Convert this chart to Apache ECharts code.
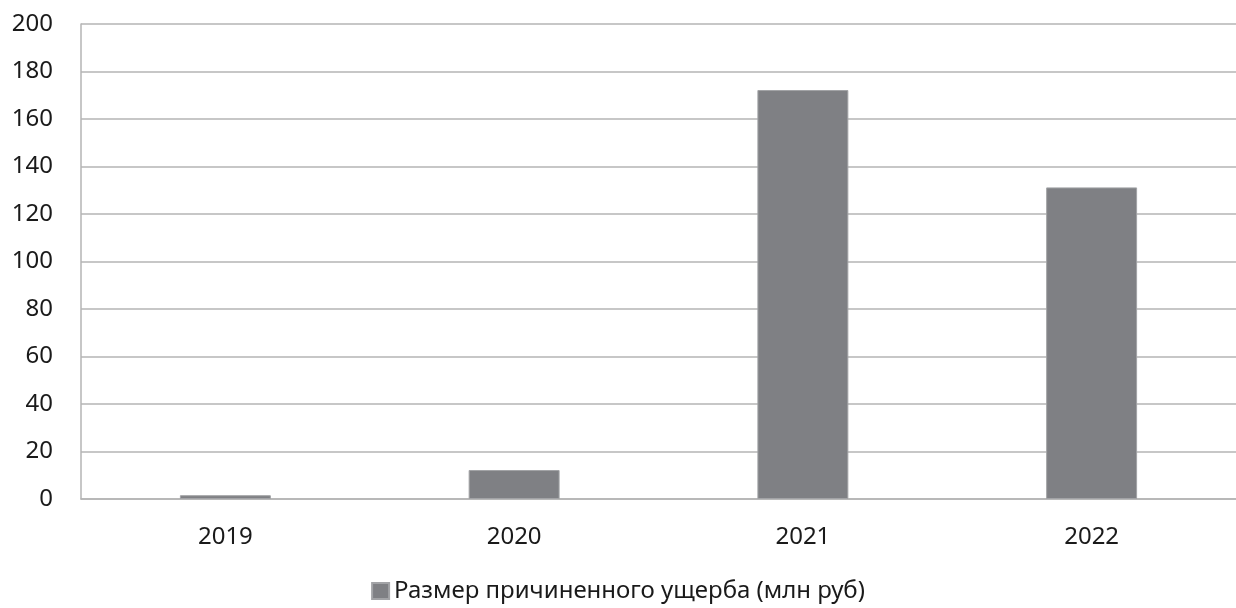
<!DOCTYPE html>
<html>
<head>
<meta charset="utf-8">
<script src="https://cdn.jsdelivr.net/npm/echarts@6/dist/echarts.min.js"></script>
<style>
html,body{margin:0;padding:0;background:#fff;}
#chart{width:1236px;height:608px;}
</style>
</head>
<body>
<div id="chart"></div>
<script>
const categories = ['2019', '2020', '2021', '2022'];
const damageValues = [1.6, 12.2, 172.2, 131.2];
const seriesName = 'Размер причиненного ущерба (млн руб)';
const yMin = 0, yMax = 200, yInterval = 20;

const chart = echarts.init(document.getElementById('chart'));
const FONT = '"Noto Sans", "Open Sans", sans-serif';
chart.setOption({
  animation: false,
  backgroundColor: '#ffffff',
  textStyle: { fontFamily: FONT },
  grid: { left: 81, right: 0, top: 24, bottom: 109, containLabel: false },
  legend: {
    bottom: 0,
    left: 'center',
    itemWidth: 17,
    itemHeight: 16,
    icon: 'rect',
    itemGap: 10,
    textStyle: { fontSize: 24, color: '#1a1a1a', fontFamily: FONT },
    data: [seriesName]
  },
  xAxis: {
    type: 'category',
    data: categories,
    axisLine: { show: true, lineStyle: { color: '#b4b4b4', width: 1.5 } },
    axisTick: { show: false },
    axisLabel: { fontSize: 24, color: '#1a1a1a', margin: 26, fontFamily: FONT }
  },
  yAxis: {
    type: 'value',
    min: yMin,
    max: yMax,
    interval: yInterval,
    axisLine: { show: true, lineStyle: { color: '#b4b4b4', width: 1.5 } },
    axisTick: { show: false },
    axisLabel: { fontSize: 24, color: '#1a1a1a', margin: 28, fontFamily: FONT },
    splitLine: { show: true, lineStyle: { color: '#b4b4b4', width: 1.5 } }
  },
  series: [{
    name: seriesName,
    type: 'bar',
    data: damageValues,
    barCategoryGap: '68.5%',
    itemStyle: { color: '#7f8084', borderColor: '#a2a3a6', borderWidth: 1 }
  }]
});
</script>
</body>
</html>
